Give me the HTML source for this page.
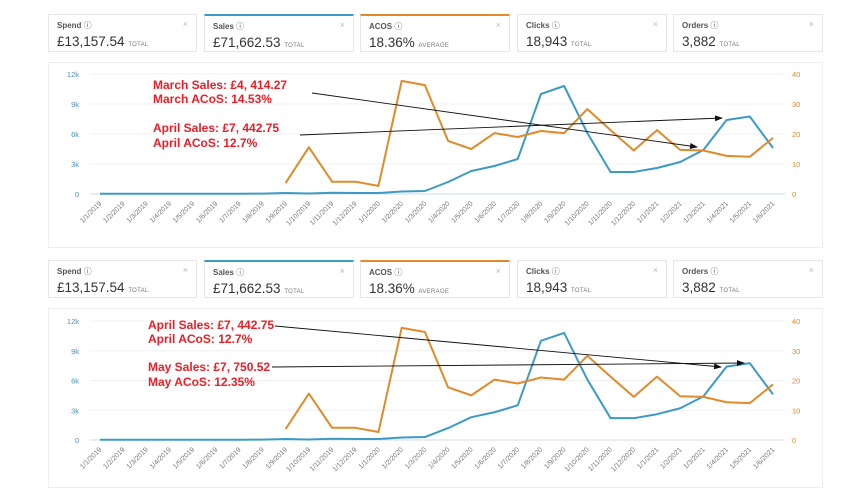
<!DOCTYPE html>
<html><head><meta charset="utf-8">
<style>
body{margin:0;width:847px;height:483px;background:#fff;overflow:hidden;font-family:"Liberation Sans",sans-serif;position:relative}
.card{position:absolute;height:38px;border:1px solid #e6e6e6;background:#fff;box-sizing:border-box}
.card .t{position:absolute;left:8px;top:5px;font-size:8px;color:#555}
.card .x{position:absolute;right:8px;top:4px;font-size:9px;color:#bbb}
.card .v{position:absolute;left:8px;top:19px;font-size:13.5px;color:#333}
.card .v small{font-size:6px;color:#777;letter-spacing:.3px}
.panel{position:absolute;left:48px;width:775px;border:1px solid #eee;box-sizing:border-box}
svg{position:absolute;left:0;top:0}
</style></head><body>
<div id="root"></div>
<svg id="svg" width="847" height="483"></svg>
<script>
const categories=["1/1/2019","1/2/2019","1/3/2019","1/4/2019","1/5/2019","1/6/2019","1/7/2019","1/8/2019","1/9/2019","1/10/2019","1/11/2019","1/12/2019","1/1/2020","1/2/2020","1/3/2020","1/4/2020","1/5/2020","1/6/2020","1/7/2020","1/8/2020","1/9/2020","1/10/2020","1/11/2020","1/12/2020","1/1/2021","1/2/2021","1/3/2021","1/4/2021","1/5/2021","1/6/2021"];
const salesK=[0.02,0.02,0.02,0.02,0.02,0.02,0.03,0.04,0.1,0.05,0.12,0.1,0.1,0.25,0.3,1.2,2.3,2.8,3.5,10,10.8,6.1,2.2,2.2,2.6,3.2,4.4,7.4,7.75,4.6];
const acos=[null,null,null,null,null,null,null,null,3.7,15.6,4.1,4.1,2.7,37.7,36.3,17.7,15,20.3,19,21,20.3,28.3,21.3,14.5,21.3,14.7,14.5,12.7,12.4,18.7];
const leftTicks=["0","3k","6k","9k","12k"];
const rightTicks=["0","10","20","30","40"];
const leftTickVals=[0,3,6,9,12];
const rightTickVals=[0,10,20,30,40];
const cardTitles=["Spend","Sales","ACOS","Clicks","Orders"];
const cardValues=["£13,157.54","£71,662.53","18.36%","18,943","3,882"];
const cardUnits=["TOTAL","TOTAL","AVERAGE","TOTAL","TOTAL"];

const NS="http://www.w3.org/2000/svg";
const svg=document.getElementById('svg');
const root=document.getElementById('root');
function mk(tag,attrs,parent){const e=document.createElementNS(NS,tag);for(const k in attrs)e.setAttribute(k,attrs[k]);(parent||svg).appendChild(e);return e;}
const cardX=[48,204,360,517,673];
const cardW=[149,150,150,150,150];
function cards(top){
  for(let i=0;i<5;i++){
    const d=document.createElement('div');d.className='card';
    
    
    d.style.left=cardX[i]+'px';d.style.top=top+'px';d.style.width=cardW[i]+'px';
    if(i==1)d.style.borderTop='2px solid #3d9ac4';
    if(i==2)d.style.borderTop='2px solid #e08a2a';
    d.innerHTML='<span class="t"><b>'+cardTitles[i]+'</b> ⓘ</span><span class="x">×</span><span class="v">'+cardValues[i]+' <small>'+cardUnits[i]+'</small></span>';
    root.appendChild(d);
  }
}
function panel(top,h){const p=document.createElement('div');p.className='panel';p.style.top=top+'px';p.style.height=h+'px';


root.appendChild(p);}
function chart(y0,y12){
  const x=i=>100+i*(673/29);
  const yl=v=>y0-(v/12)*(y0-y12);
  const yr=v=>y0-(v/40)*(y0-y12);
  leftTickVals.forEach((v,i)=>{
    const l=mk('line',{x1:90,x2:785,y1:yl(v),y2:yl(v),stroke:i==0?'#cfdde6':'#f0f0f0','stroke-width':1});
    
    
    const t=mk('text',{x:79,y:yl(v)+3,'font-size':7.5,fill:'#4a90b8','text-anchor':'end'});t.textContent=leftTicks[i];
    
    
  });
  rightTickVals.forEach((v,i)=>{
    const t=mk('text',{x:792,y:yr(v)+3,'font-size':7.5,fill:'#e08a2a'});t.textContent=rightTicks[i];
    
    
  });
  categories.forEach((c,i)=>{
    const t=mk('text',{x:x(i)+2,y:y0+10,'font-size':7,fill:'#777','text-anchor':'end',transform:`rotate(-45 ${x(i)+2} ${y0+10})`});t.textContent=c;
    
    
  });
  const sp=salesK.map((v,i)=>x(i)+','+yl(v)).join(' ');
  const s=mk('polyline',{points:sp,fill:'none',stroke:'#3d9ac4','stroke-width':2,'stroke-linejoin':'round'});
  
  
  const ap=acos.map((v,i)=>v==null?null:x(i)+','+yr(v)).filter(p=>p).join(' ');
  const a=mk('polyline',{points:ap,fill:'none',stroke:'#e08a2a','stroke-width':2,'stroke-linejoin':'round'});
  
  
}
function arrow(x1,y1,x2,y2){
  const l=mk('line',{x1,y1,x2,y2,stroke:'#111','stroke-width':0.9,'marker-end':'url(#ah)'});
  
  
}
function label(x,y,txt){
  const t=mk('text',{x,y,'font-size':12,'font-weight':'bold',fill:'#ee1c25'});t.textContent=txt;
  
  
}
const defs=mk('defs',{});
const m=mk('marker',{id:'ah',markerWidth:8,markerHeight:6,refX:7,refY:3,orient:'auto',markerUnits:'userSpaceOnUse'},defs);
mk('path',{d:'M0,0 L8,3 L0,6 Z',fill:'#111'},m);

cards(14);panel(62,186);
cards(260);panel(308,180);
chart(194,74);
chart(440,321);
label(153,89,"March Sales: £4, 414.27");
label(153,103,"March ACoS: 14.53%");
label(153,132,"April Sales: £7, 442.75");
label(153,147,"April ACoS: 12.7%");
arrow(312,93,697,147);
arrow(300,135,722,118);
label(148,329,"April Sales: £7, 442.75");
label(148,343,"April ACoS: 12.7%");
label(148,371,"May Sales: £7, 750.52");
label(148,386,"May ACoS: 12.35%");
arrow(275,326,721,367);
arrow(272,367,744,363);
</script>
</body></html>
